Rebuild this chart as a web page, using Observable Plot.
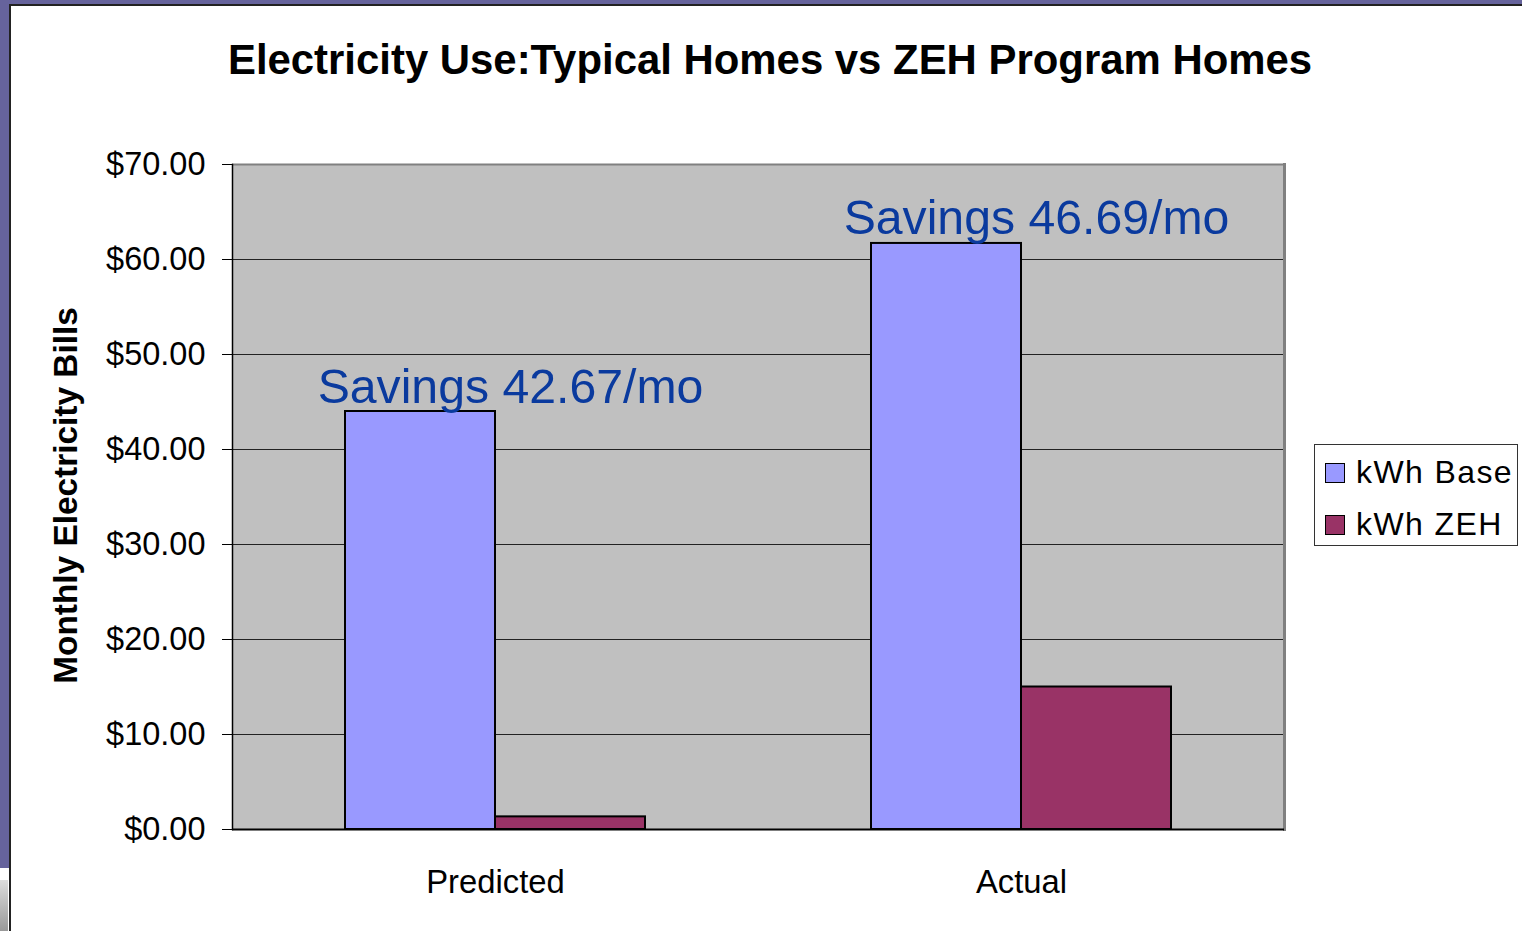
<!DOCTYPE html>
<html><head><meta charset="utf-8">
<script src="https://cdn.jsdelivr.net/npm/d3@7"></script>
<script src="https://cdn.jsdelivr.net/npm/@observablehq/plot@0.6"></script>
<style>
body{margin:0;width:1522px;height:931px;position:relative;overflow:hidden;background:#fff;font-family:"Liberation Sans",Arial,sans-serif;}
.deco{position:absolute;}
#topbar{left:0;top:0;width:1522px;height:4px;background:#66639c;}
#topline{left:9px;top:4px;width:1513px;height:2px;background:#222;}
#leftbar{left:0;top:0;width:9px;height:868px;background:#66639c;}
#leftgray{left:0;top:880px;width:8px;height:51px;background:linear-gradient(#ddd,#999);}
#leftline{left:9px;top:4px;width:2px;height:927px;background:#222;}
#title{position:absolute;left:0;width:1540px;top:39px;line-height:42px;text-align:center;font-weight:bold;font-size:41.9px;color:#000;white-space:nowrap;}
#ylabel{position:absolute;width:500px;left:-185.5px;top:479px;height:33px;line-height:33px;text-align:center;font-weight:bold;font-size:33.4px;transform:rotate(-90deg);white-space:nowrap;}
#chart{position:absolute;left:0;top:110px;}
#legend{position:absolute;left:1314px;top:444px;width:202px;height:100px;border:1.5px solid #333;background:#fff;}
.item{position:absolute;left:10px;height:32px;line-height:32px;font-size:32px;white-space:nowrap;letter-spacing:1.4px;}
.sw{display:inline-block;width:18px;height:18px;border:1.5px solid #000;vertical-align:middle;margin-right:11px;position:relative;top:-2px;}
</style>
</head><body>
<div class="deco" id="topbar"></div>
<div class="deco" id="leftbar"></div>
<div class="deco" id="leftgray"></div>
<div class="deco" id="topline"></div>
<div class="deco" id="leftline"></div>
<div id="title"></div>
<div id="ylabel"></div>
<div id="chart"></div>
<div id="legend"></div>
<script>
const titleText = "Electricity Use:Typical Homes vs ZEH Program Homes";
const yLabel = "Monthly Electricity Bills";
const categories = ["Predicted", "Actual"];
const seriesNames = ["kWh Base", "kWh ZEH"];
const seriesColors = ["#9999ff", "#993366"];
const baseValues = [44.0, 61.69];
const zehValues = [1.33, 15.0];
const savingsLabels = ["Savings 42.67/mo", "Savings 46.69/mo"];
const yTicks = [0, 10, 20, 30, 40, 50, 60, 70];
const gridTicks = [10, 20, 30, 40, 50, 60];

document.getElementById("title").textContent = titleText;
document.getElementById("ylabel").textContent = yLabel;

const bars = [];
categories.forEach((c, i) => {
  bars.push({category: c, series: seriesNames[0], value: baseValues[i]});
  bars.push({category: c, series: seriesNames[1], value: zehValues[i]});
});
const notes = categories.map((c, i) => ({category: c, value: baseValues[i], label: savingsLabels[i]}));

const plot = Plot.plot({
  width: 1300,
  height: 810,
  marginTop: 54,
  marginBottom: 91,
  marginLeft: 232,
  marginRight: 16,
  style: {fontFamily: "'Liberation Sans', Arial, sans-serif", background: "transparent", color: "#000"},
  fx: {domain: categories, padding: 0, label: null},
  x: {domain: seriesNames, axis: null, paddingInner: 0, paddingOuter: 0.7533},
  y: {domain: [0, 70], axis: null},
  color: {domain: seriesNames, range: seriesColors},
  marks: [
    Plot.frame({fill: "#c0c0c0", stroke: "none", shapeRendering: "crispEdges"}),
    Plot.ruleY(gridTicks, {stroke: "#222", strokeWidth: 1}),
    Plot.ruleY([70], {stroke: "#808080", strokeWidth: 2}),
    Plot.frame({anchor: "right", stroke: "#808080", strokeWidth: 3, facetAnchor: "right"}),
    Plot.barY(bars, {fx: "category", x: "series", y: "value", fill: "series", stroke: "#000", strokeWidth: 2}),
    Plot.ruleY([0], {stroke: "#000", strokeWidth: 2}),
    Plot.frame({anchor: "left", stroke: "#000", strokeWidth: 1.5, facetAnchor: "left"}),
    Plot.axisY({ticks: yTicks, tickSize: 10, tickPadding: 17, fontSize: 32.5, tickFormat: d => "$" + d.toFixed(2), label: null, stroke: "#000"}),
    Plot.axisFx({anchor: "bottom", tickSize: 0, tickPadding: 40, fontSize: 32.8, label: null}),
    Plot.text(notes, {fx: "category", y: "value", text: "label", dx: 15, dy: -9, lineAnchor: "bottom", fontSize: 48.2, fill: "#0a3a9e"})
  ]
});
document.getElementById("chart").appendChild(plot);

const legend = document.getElementById("legend");
seriesNames.forEach((s, i) => {
  const item = document.createElement("div");
  item.className = "item";
  item.style.top = (11 + i * 52) + "px";
  const sw = document.createElement("span");
  sw.className = "sw";
  sw.style.background = seriesColors[i];
  item.appendChild(sw);
  item.appendChild(document.createTextNode(s));
  legend.appendChild(item);
});
</script>
</body></html>
